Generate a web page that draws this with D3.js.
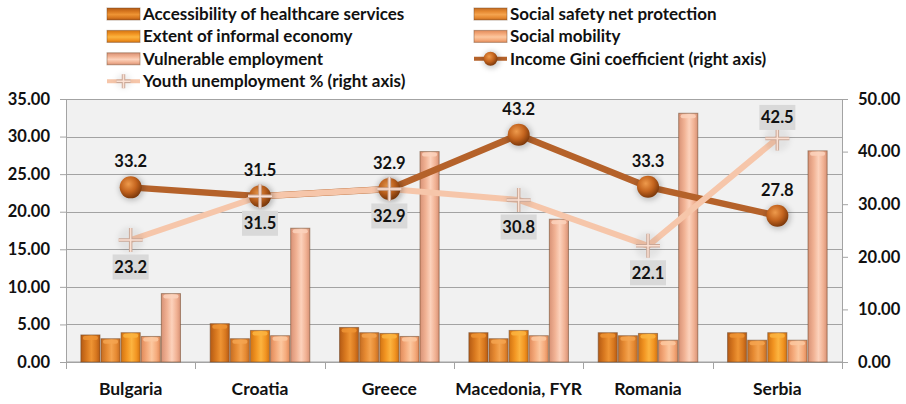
<!DOCTYPE html>
<html>
<head>
<meta charset="utf-8">
<script src="https://cdn.jsdelivr.net/npm/d3@7"></script>
<style>
  body { margin: 0; background: #fff; }
  svg text { font-family: Lato, "Open Sans", sans-serif; font-weight: bold; fill: #111; }
</style>
</head>
<body>
<div id="chart"></div>
<script>
// data
const categories = ['Bulgaria', 'Croatia', 'Greece', 'Macedonia, FYR', 'Romania', 'Serbia'];
const barNames = ['Accessibility of healthcare services', 'Social safety net protection',
    'Extent of informal economy', 'Social mobility', 'Vulnerable employment'];
const accessibility = [3.6, 5.1, 4.6, 3.9, 3.9, 3.9];
const safetyNet = [3.1, 3.1, 3.9, 3.1, 3.5, 2.9];
const informal = [3.9, 4.2, 3.8, 4.2, 3.8, 3.9];
const mobility = [3.4, 3.5, 3.4, 3.5, 2.9, 2.9];
const vulnerable = [9.1, 17.8, 28.0, 19.0, 33.1, 28.1];
const giniName = 'Income Gini coefficient (right axis)';
const youthName = 'Youth unemployment % (right axis)';
const gini = [33.2, 31.5, 32.9, 43.2, 33.3, 27.8];
const youth = [23.2, 31.5, 32.9, 30.8, 22.1, 42.5];
const leftTicks = [0, 5, 10, 15, 20, 25, 30, 35];
const rightTicks = [0, 10, 20, 30, 40, 50];

const barValues = [accessibility, safetyNet, informal, mobility, vulnerable];

// dark edge, body, light centre for each bar series
const barColors = [
    ['#b45a14', '#d8781f', '#ee9434'],
    ['#c46c22', '#e68a32', '#f4a450'],
    ['#d27312', '#f29522', '#fcb440'],
    ['#e08a5a', '#f5ab7c', '#fcc8a0'],
    ['#d89276', '#f1b294', '#fcd2bc'],
];
const giniColor = '#b5622a';
const youthColor = '#f6c6aa';

const W = 906, H = 404;
const m = { left: 66, right: 64, top: 99, bottom: 42 };

const svg = d3.select('#chart').append('svg')
    .attr('width', W)
    .attr('height', H);

const defs = svg.append('defs');

// gradients, horizontal for bars, vertical for legend swatches
function addGradient(id, c, vertical) {
    const g = defs.append('linearGradient')
        .attr('id', id)
        .attr('x1', 0).attr('y1', 0)
        .attr('x2', vertical ? 0 : 1).attr('y2', vertical ? 1 : 0);
    g.append('stop').attr('offset', '0%').attr('stop-color', c[0]);
    g.append('stop').attr('offset', '30%').attr('stop-color', c[1]);
    g.append('stop').attr('offset', '55%').attr('stop-color', c[2]);
    g.append('stop').attr('offset', '80%').attr('stop-color', c[1]);
    g.append('stop').attr('offset', '100%').attr('stop-color', c[0]);
}
barColors.forEach((c, i) => {
    addGradient('bar' + i, c, false);
    addGradient('leg' + i, c, true);
});

const ball = defs.append('radialGradient')
    .attr('id', 'ball')
    .attr('cx', '40%').attr('cy', '35%').attr('r', '65%');
ball.append('stop').attr('offset', '0%').attr('stop-color', '#ee9a4c');
ball.append('stop').attr('offset', '55%').attr('stop-color', '#c4641e');
ball.append('stop').attr('offset', '100%').attr('stop-color', '#7e3a0c');

const blur = defs.append('filter').attr('id', 'halo')
    .attr('x', '-50%').attr('y', '-50%').attr('width', '200%').attr('height', '200%');
blur.append('feGaussianBlur').attr('stdDeviation', 2.5);

// scales
const x0 = d3.scaleBand()
    .domain(categories)
    .range([m.left, W - m.right]);

const bw = x0.bandwidth();
const x1 = d3.scaleBand()
    .domain(d3.range(barNames.length))
    .range([bw * 0.115, bw * 0.885])
    .paddingInner(0.05);

const yL = d3.scaleLinear().domain([0, 35]).range([H - m.bottom, m.top]);
const yR = d3.scaleLinear().domain([0, 50]).range([H - m.bottom, m.top]);

// plot area
svg.append('rect')
    .attr('x', m.left).attr('y', m.top)
    .attr('width', W - m.left - m.right)
    .attr('height', H - m.top - m.bottom)
    .attr('fill', '#f1f1f1');

svg.append('g')
    .selectAll('line')
    .data(leftTicks)
    .join('line')
    .attr('x1', m.left).attr('x2', W - m.right)
    .attr('y1', d => Math.round(yL(d)) + 0.5)
    .attr('y2', d => Math.round(yL(d)) + 0.5)
    .attr('stroke', '#a3a3a3');

// axes
const axisStyle = (g) => {
    g.select('.domain').attr('stroke', '#a3a3a3');
    g.selectAll('.tick line').attr('stroke', '#a3a3a3');
    g.selectAll('.tick text').style('font-size', '16.5px');
};

svg.append('g')
    .attr('transform', `translate(${m.left},0)`)
    .call(d3.axisLeft(yL).tickValues(leftTicks).tickFormat(d3.format('.2f')).tickSize(6).tickSizeOuter(0).tickPadding(10))
    .call(axisStyle);

svg.append('g')
    .attr('transform', `translate(${W - m.right},0)`)
    .call(d3.axisRight(yR).tickValues(rightTicks).tickFormat(d3.format('.2f')).tickSize(6).tickSizeOuter(0).tickPadding(10))
    .call(axisStyle);

// category axis with ticks between groups
const xAxis = svg.append('g')
    .attr('transform', `translate(0,${H - m.bottom})`);
xAxis.append('line')
    .attr('x1', m.left).attr('x2', W - m.right)
    .attr('stroke', '#a3a3a3');
xAxis.selectAll('.sep')
    .data(categories.concat(['_end']))
    .join('line')
    .attr('class', 'sep')
    .attr('x1', (d, i) => Math.round(m.left + i * bw) + 0.5)
    .attr('x2', (d, i) => Math.round(m.left + i * bw) + 0.5)
    .attr('y1', 0).attr('y2', 7)
    .attr('stroke', '#a3a3a3');
xAxis.selectAll('text')
    .data(categories)
    .join('text')
    .attr('x', d => x0(d) + bw / 2)
    .attr('y', 33)
    .attr('text-anchor', 'middle')
    .style('font-size', '17.5px')
    .text(d => d);

// bars
const groups = svg.append('g')
    .selectAll('g')
    .data(categories)
    .join('g')
    .attr('transform', d => `translate(${x0(d)},0)`);

groups.each(function (c, ci) {
    const g = d3.select(this);
    const vals = barValues.map((arr, si) => ({ si, v: arr[ci] }));
    g.selectAll('rect.bar')
        .data(vals)
        .join('rect')
        .attr('class', 'bar')
        .attr('x', d => x1(d.si))
        .attr('width', x1.bandwidth())
        .attr('y', d => yL(d.v))
        .attr('height', d => yL(0) - yL(d.v))
        .attr('fill', d => `url(#bar${d.si})`)
        .attr('stroke', 'rgba(110,70,40,0.55)')
        .attr('stroke-width', 1);
    g.selectAll('rect.cap')
        .data(vals)
        .join('rect')
        .attr('class', 'cap')
        .attr('x', d => x1(d.si) + 2)
        .attr('width', x1.bandwidth() - 4)
        .attr('y', d => yL(d.v) + 1)
        .attr('height', 4)
        .attr('rx', 2)
        .attr('fill', d => barColors[d.si][2])
        .attr('opacity', 0.85);
});

// lines
const cx = (i) => x0(categories[i]) + bw / 2;
const line = d3.line()
    .x((d, i) => cx(i))
    .y(d => yR(d));

svg.append('path')
    .datum(gini)
    .attr('d', line)
    .attr('fill', 'none')
    .attr('stroke', giniColor)
    .attr('stroke-width', 6.5);

svg.append('path')
    .datum(youth)
    .attr('d', line)
    .attr('fill', 'none')
    .attr('stroke', youthColor)
    .attr('stroke-width', 6);

function drawBall(g, x, y, r) {
    g.append('circle').attr('cx', x + 1).attr('cy', y + 1).attr('r', r + 2)
        .attr('fill', 'rgba(0,0,0,0.18)').attr('filter', 'url(#halo)');
    g.append('circle').attr('cx', x).attr('cy', y).attr('r', r)
        .attr('fill', 'url(#ball)');
}

function drawPlus(g, x, y, s) {
    g.append('circle').attr('cx', x).attr('cy', y).attr('r', s + 1)
        .attr('fill', 'rgba(0,0,0,0.06)').attr('filter', 'url(#halo)');
    const p = `M${x - s},${y}H${x + s}M${x},${y - s}V${y + s}`;
    g.append('path').attr('d', p).attr('stroke', '#c9a898').attr('stroke-width', 3.5);
    g.append('path').attr('d', p).attr('stroke', '#fbe0d2').attr('stroke-width', 1.5);
}

const markers = svg.append('g');
gini.forEach((v, i) => drawBall(markers, cx(i), yR(v), 11));
youth.forEach((v, i) => drawPlus(markers, cx(i), yR(v), 12));

// value labels
const labels = svg.append('g').style('font-size', '16.5px');
gini.forEach((v, i) => {
    labels.append('text')
        .attr('x', cx(i))
        .attr('y', yR(v) - 26)
        .attr('dy', '0.35em')
        .attr('text-anchor', 'middle')
        .text(v.toFixed(1));
});
youth.forEach((v, i) => {
    const above = v > gini[i];
    const ly = yR(v) + (above ? -21 : 27);
    labels.append('rect')
        .attr('x', cx(i) - 18).attr('y', ly - 12.5)
        .attr('width', 36).attr('height', 25)
        .attr('fill', '#d9d9d9');
    labels.append('text')
        .attr('x', cx(i))
        .attr('y', ly)
        .attr('dy', '0.35em')
        .attr('text-anchor', 'middle')
        .text(v.toFixed(1));
});

// legend
const legendItems = barNames.map((n, i) => ({ name: n, type: 'bar', i }))
    .concat([{ name: giniName, type: 'gini' }, { name: youthName, type: 'youth' }]);

const legend = svg.append('g')
    .selectAll('g')
    .data(legendItems)
    .join('g')
    .attr('transform', (d, i) => `translate(${i % 2 === 0 ? 107 : 474},${14 + Math.floor(i / 2) * 22.4})`);

legend.each(function (d) {
    const g = d3.select(this);
    if (d.type === 'bar') {
        g.append('rect')
            .attr('x', 0).attr('y', -6)
            .attr('width', 33).attr('height', 12)
            .attr('fill', `url(#leg${d.i})`)
            .attr('stroke', 'rgba(110,70,40,0.45)');
    } else if (d.type === 'gini') {
        g.append('line').attr('x1', 0).attr('x2', 33)
            .attr('stroke', giniColor).attr('stroke-width', 4);
        drawBall(g, 16.5, 0, 7);
    } else {
        g.append('line').attr('x1', 0).attr('x2', 33)
            .attr('stroke', youthColor).attr('stroke-width', 4);
        drawPlus(g, 16.5, 0, 7);
    }
    g.append('text')
        .attr('x', 36)
        .attr('dy', '0.35em')
        .style('font-size', '17px')
        .text(d.name);
});
</script>
</body>
</html>
